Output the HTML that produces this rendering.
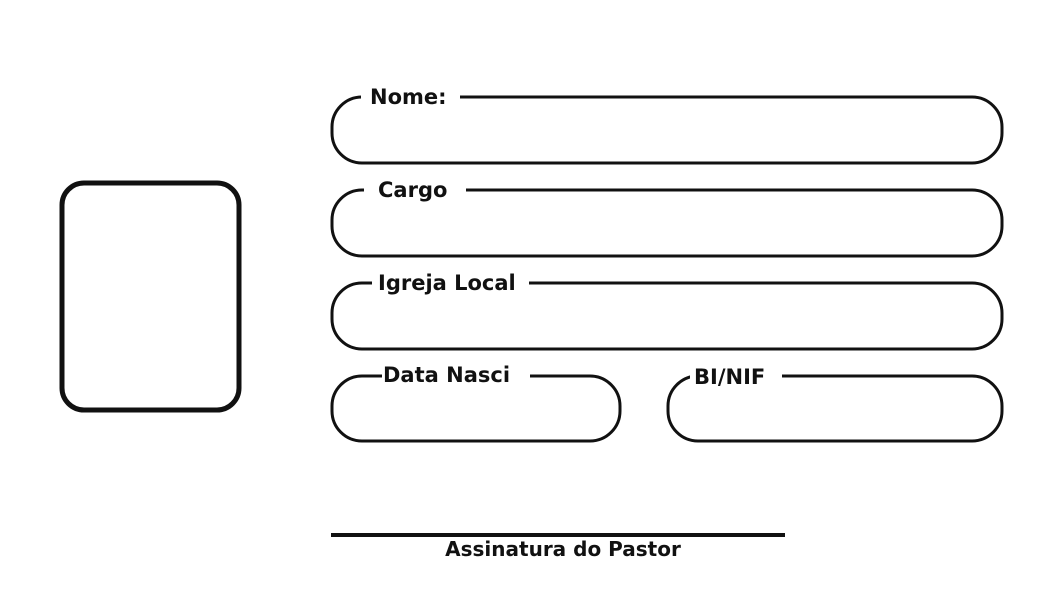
<!DOCTYPE html>
<html><head><style>body{margin:0;background:#fff}svg{display:block}text{font-family:"DejaVu Sans","Liberation Sans",sans-serif;font-weight:bold;fill:#111}</style></head>
<body>
<svg width="1063" height="591" viewBox="0 0 1063 591">
<g fill="none" stroke="#111" stroke-width="3">
<rect x="332" y="97" width="670" height="66" rx="30"/>
<rect x="332" y="190" width="670" height="66" rx="30"/>
<rect x="332" y="283" width="670" height="66" rx="30"/>
<rect x="332" y="376" width="288" height="65" rx="30"/>
<rect x="668" y="376" width="334" height="65" rx="30"/>
<rect x="62" y="183" width="177" height="227" rx="22" stroke-width="5"/>
</g>
<g fill="#fff">
<rect x="361" y="90" width="99" height="14"/>
<rect x="364" y="183" width="102" height="14"/>
<rect x="372" y="276" width="157" height="14"/>
<rect x="382" y="369" width="148" height="14"/>
<rect x="690" y="369" width="92" height="14"/>
</g>
<g font-size="21">
<text x="370" y="104">Nome:</text>
<text x="378" y="197">Cargo</text>
<text x="378" y="290">Igreja Local</text>
<text x="383" y="382">Data Nasci</text>
<text x="694" y="384">BI/NIF</text>
</g>
<rect x="331" y="533" width="454" height="4" fill="#111"/>
<text x="563" y="556" font-size="20" text-anchor="middle">Assinatura do Pastor</text>
</svg>
</body></html>
